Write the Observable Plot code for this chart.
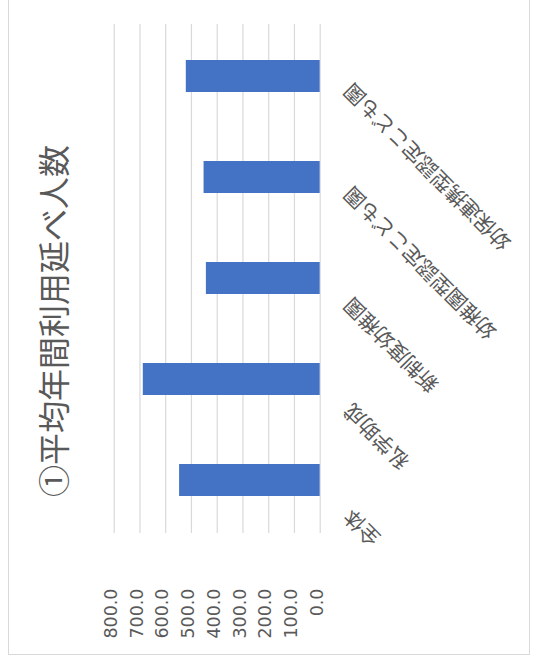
<!DOCTYPE html>
<html>
<head>
<meta charset="utf-8">
<script src="https://cdn.jsdelivr.net/npm/d3@7"></script>
<script src="https://cdn.jsdelivr.net/npm/@observablehq/plot@0.6"></script>
<style>
  html, body { margin: 0; padding: 0; background: #fff; overflow: hidden; width: 539px; height: 664px; }
  #chart {
    position: absolute; left: 0; top: 0;
    width: 664px; height: 539px;
    transform-origin: 0 0;
    transform: translate(0px, 664px) rotate(-90deg);
    background: #fff;
  }
  #frame {
    position: absolute; left: 9px; top: 8px; width: 680px; height: 522px;
    border: 1px solid #d9d9d9; box-sizing: border-box;
  }
  #title {
    position: absolute; left: 0; width: 686px; top: 36px;
    text-align: center; font-family: "Noto Sans CJK JP", sans-serif;
    font-size: 32px; line-height: 32px; color: #595959; white-space: nowrap;
  }
  #plot { position: absolute; left: 0; top: 0; }
</style>
</head>
<body>
<div id="chart">
  <div id="frame"></div>
  <div id="plot"></div>
  <div id="title"></div>
</div>
<script>
const titleText = "①平均年間利用延べ人数";
const categories = ["全体", "私学助成", "新制度幼稚園", "幼稚園型認定こども園", "幼保連携型認定こども園"];
const values = [546, 687, 442, 451, 520];
const yTicks = [0, 100, 200, 300, 400, 500, 600, 700, 800];

document.getElementById("title").textContent = titleText;

const data = categories.map((c, i) => ({category: c, value: values[i]}));

const labelMarks = categories.map(c => Plot.text([c], {
  x: d => d,
  y: () => 0,
  text: d => d,
  rotate: -45,
  textAnchor: "end",
  dx: -38 + 2.45 * c.length,
  dy: 28,
  fontSize: 20.5,
  fontFamily: "Noto Sans CJK JP",
  fill: "#595959"
}));

const chart = Plot.plot({
  width: 664,
  height: 539,
  marginLeft: 131,
  marginRight: 24,
  marginTop: 113.7,
  marginBottom: 219.3,
  style: {background: "transparent", fontFamily: "DejaVu Sans", overflow: "visible"},
  x: {domain: categories, paddingInner: 0.686, paddingOuter: 0.343, axis: null},
  y: {domain: [0, 800], axis: null},
  marks: [
    Plot.gridY(yTicks, {stroke: "#d9d9d9", strokeOpacity: 1, strokeWidth: 1.2}),
    Plot.barY(data, {x: "category", y: "value", fill: "#4472C4"}),
    Plot.axisY(yTicks, {
      tickSize: 0, tickPadding: 56, tickFormat: d => d.toFixed(1),
      fontSize: 17.5, fill: "#595959", dy: -3, label: null
    }),
    ...labelMarks
  ]
});
document.getElementById("plot").appendChild(chart);
</script>
</body>
</html>
